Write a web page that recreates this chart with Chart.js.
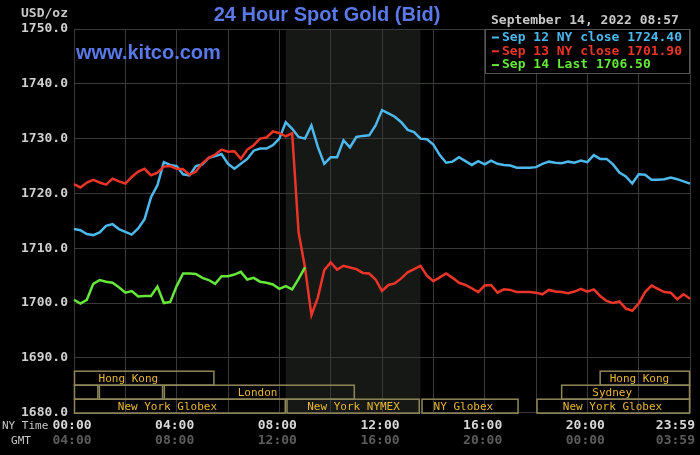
<!DOCTYPE html>
<html>
<head>
<meta charset="utf-8">
<script src="https://cdn.jsdelivr.net/npm/chart.js@4.4.0/dist/chart.umd.min.js"></script>
<style>
  html, body { margin: 0; padding: 0; background: #000; }
  #wrap { width: 700px; height: 455px; position: relative; }
</style>
</head>
<body>
<div id="wrap"><canvas id="goldChart"></canvas></div>
<script>
// NY time, every 15 minutes
const timeLabels = [
  "00:00","00:15","00:30","00:45","01:00","01:15","01:30","01:45",
  "02:00","02:15","02:30","02:45","03:00","03:15","03:30","03:45",
  "04:00","04:15","04:30","04:45","05:00","05:15","05:30","05:45",
  "06:00","06:15","06:30","06:45","07:00","07:15","07:30","07:45",
  "08:00","08:15","08:30","08:45","09:00","09:15","09:30","09:45",
  "10:00","10:15","10:30","10:45","11:00","11:15","11:30","11:45",
  "12:00","12:15","12:30","12:45","13:00","13:15","13:30","13:45",
  "14:00","14:15","14:30","14:45","15:00","15:15","15:30","15:45",
  "16:00","16:15","16:30","16:45","17:00","17:15","17:30","17:45",
  "18:00","18:15","18:30","18:45","19:00","19:15","19:30","19:45",
  "20:00","20:15","20:30","20:45","21:00","21:15","21:30","21:45",
  "22:00","22:15","22:30","22:45","23:00","23:15","23:30","23:45",
  "23:59"
];

const sep12 = [
  1713.5, 1713.3, 1712.6, 1712.4, 1712.9, 1714.1, 1714.4, 1713.5,
  1713.0, 1712.5, 1713.6, 1715.3, 1719.3, 1721.5, 1725.7, 1725.2,
  1725.0, 1723.5, 1723.3, 1725.0, 1725.3, 1726.5, 1726.8, 1727.2,
  1725.4, 1724.5, 1725.4, 1726.3, 1727.8, 1728.2, 1728.2, 1728.8,
  1730.0, 1733.0, 1731.8, 1730.3, 1730.0, 1732.4, 1728.5, 1725.4,
  1726.6, 1726.6, 1729.7, 1728.4, 1730.3, 1730.5, 1730.6, 1732.4,
  1735.2, 1734.6, 1734.0, 1733.0, 1731.6, 1731.2, 1730.0, 1729.9,
  1728.9, 1727.0, 1725.6, 1725.8, 1726.6, 1725.9, 1725.2, 1725.9,
  1725.3, 1726.0, 1725.4, 1725.2, 1725.1, 1724.7, 1724.7, 1724.7,
  1724.8, 1725.4, 1725.8, 1725.6, 1725.5, 1725.8, 1725.6, 1726.0,
  1725.7, 1727.0, 1726.3, 1726.3, 1725.3, 1723.8, 1723.1, 1721.8,
  1723.5, 1723.4, 1722.5, 1722.5, 1722.6, 1722.9, 1722.6, 1722.2,
  1721.8
];

const sep13 = [
  1721.7, 1721.1, 1722.0, 1722.5, 1722.0, 1721.6, 1722.7, 1722.2,
  1721.8, 1723.0, 1724.0, 1724.5, 1723.3, 1723.8, 1724.9, 1725.0,
  1724.5, 1724.4, 1723.4, 1724.0, 1725.5, 1726.5, 1727.1, 1728.0,
  1727.6, 1727.7, 1726.3, 1728.0, 1728.8, 1730.0, 1730.2, 1731.3,
  1731.0, 1730.4, 1731.0, 1712.9, 1706.5, 1697.8, 1701.0, 1706.0,
  1707.4, 1706.1, 1706.8, 1706.5, 1706.2, 1705.5, 1705.4, 1704.3,
  1702.2, 1703.3, 1703.6, 1704.5, 1705.6, 1706.2, 1706.8, 1705.0,
  1704.0, 1704.7, 1705.4, 1704.6, 1703.7, 1703.3, 1702.7, 1702.0,
  1703.2, 1703.3, 1701.9, 1702.5, 1702.4, 1702.0, 1702.0, 1702.0,
  1701.9, 1701.6, 1702.4, 1702.1, 1702.0, 1701.8, 1702.1, 1702.6,
  1702.1, 1702.5, 1701.3, 1700.4, 1700.0, 1700.3, 1699.0, 1698.6,
  1699.9, 1702.0, 1703.2, 1702.6, 1702.0, 1701.9, 1700.7, 1701.6,
  1700.8
];

// today, up to 08:57
const sep14 = [
  1700.6, 1699.9, 1700.6, 1703.5, 1704.2, 1703.9, 1703.7, 1702.9,
  1701.9, 1702.2, 1701.2, 1701.3, 1701.3, 1703.0, 1700.0, 1700.2,
  1703.1, 1705.4, 1705.4, 1705.3, 1704.6, 1704.2, 1703.5, 1704.9,
  1704.9, 1705.2, 1705.7, 1704.3, 1704.6, 1703.9, 1703.7, 1703.4,
  1702.6, 1703.1, 1702.5, 1704.4, 1706.5
];

const nyTimeTicks = ["00:00", "04:00", "08:00", "12:00", "16:00", "20:00", "23:59"];
const gmtTimeTicks = ["04:00", "08:00", "12:00", "16:00", "20:00", "00:00", "03:59"];
const legendLines = ["Sep 12 NY close 1724.40", "Sep 13 NY close 1701.90", "Sep 14 Last 1706.50"];
const legendColors = ["#4cb8ec", "#ec3428", "#66e83a"];

// market sessions in NY hours (row 0 = top)
const sessions = [
  { row: 0, from: 0, to: 5.47, label: "Hong Kong", at: 2.12 },
  { row: 0, from: 20.48, to: 24, label: "Hong Kong", at: 22.03 },
  { row: 1, from: 0, to: 0.95, label: "" },
  { row: 1, from: 0.97, to: 3.47, label: "" },
  { row: 1, from: 3.5, to: 10.94, label: "London", at: 7.15 },
  { row: 1, from: 18.98, to: 24, label: "Sydney", at: 20.97 },
  { row: 2, from: 0, to: 8.25, label: "New York Globex", at: 3.64 },
  { row: 2, from: 8.28, to: 13.47, label: "New York NYMEX", at: 10.89 },
  { row: 2, from: 13.54, to: 17.32, label: "NY Globex", at: 15.17 },
  { row: 2, from: 18.02, to: 24, label: "New York Globex", at: 20.98 }
];
const nymexHours = [8.25, 13.5];

const MONO = '"DejaVu Sans Mono", monospace';
const GRID = "#3a3a3a";

function hourPx(scale, h) {
  return scale.getPixelForValue(h * 4);
}

const kitcoDecor = {
  id: "kitcoDecor",
  beforeDraw(chart) {
    const { ctx, chartArea: a, scales: { x } } = chart;
    ctx.save();
    ctx.fillStyle = "#000";
    ctx.fillRect(0, 0, chart.width, chart.height);
    const x0 = hourPx(x, nymexHours[0]);
    const x1 = hourPx(x, nymexHours[1]);
    ctx.fillStyle = "#151815";
    ctx.fillRect(x0, a.top, x1 - x0, a.bottom - a.top);
    ctx.restore();
  },
  afterDraw(chart) {
    const { ctx, chartArea: a, scales: { x } } = chart;
    ctx.save();
    ctx.textBaseline = "middle";

    // session boxes
    const rowH = 14;
    ctx.lineWidth = 1.5;
    ctx.strokeStyle = "#8f8758";
    ctx.font = "11px " + MONO;
    ctx.textAlign = "center";
    sessions.forEach(s => {
      const top = a.bottom - (3 - s.row) * rowH;
      const x0 = hourPx(x, s.from);
      const x1 = hourPx(x, s.to);
      ctx.strokeRect(x0 + 0.5, top + 0.5, x1 - x0 - 1, rowH);
      if (s.label) {
        ctx.fillStyle = "#e8b834";
        ctx.fillText(s.label, hourPx(x, s.at), top + rowH / 2 + 1);
      }
    });

    // title + site
    ctx.fillStyle = "#5a78e8";
    ctx.font = 'bold 20px "Liberation Sans", Arial, sans-serif';
    ctx.textAlign = "center";
    ctx.fillText("24 Hour Spot Gold (Bid)", 327, 15);
    ctx.textAlign = "left";
    ctx.fillText("www.kitco.com", 76, 53);

    // top labels
    ctx.font = "bold 13px " + MONO;
    ctx.fillStyle = "#c8c8c8";
    ctx.fillText("USD/oz", 21, 14);
    ctx.fillText("September 14, 2022 08:57", 491, 21);

    // legend box
    ctx.fillStyle = "#000";
    ctx.fillRect(485, 29, 205, 44);
    ctx.strokeStyle = "#555";
    ctx.lineWidth = 1;
    ctx.strokeRect(485.5, 29.5, 204, 44);
    legendLines.forEach((t, i) => {
      const y = 37.5 + i * 13.8;
      ctx.fillStyle = legendColors[i];
      ctx.fillRect(492, y - 1, 7, 2);
      ctx.fillText(t, 502, y);
    });

    // time axis
    nyTimeTicks.forEach((t, i) => {
      const idx = timeLabels.indexOf(t);
      let px = x.getPixelForValue(idx) - 2;
      let align = "center";
      if (i === nyTimeTicks.length - 1) { px = 695; align = "right"; }
      ctx.textAlign = align;
      ctx.fillStyle = "#d8d8d8";
      ctx.fillText(t, px, 426);
      ctx.fillStyle = "#5c5c5c";
      ctx.fillText(gmtTimeTicks[i], px, 441);
    });
    ctx.font = "11px " + MONO;
    ctx.fillStyle = "#c8c8c8";
    ctx.textAlign = "left";
    ctx.fillText("NY Time", 2, 426);
    ctx.textAlign = "center";
    ctx.fillText("GMT", 21, 441);
    ctx.restore();
  }
};

new Chart(document.getElementById("goldChart"), {
  type: "line",
  data: {
    labels: timeLabels,
    datasets: [
      { label: "Sep 12", data: sep12, borderColor: legendColors[0], order: 2 },
      { label: "Sep 13", data: sep13, borderColor: legendColors[1], order: 1 },
      { label: "Sep 14", data: sep14, borderColor: legendColors[2], order: 0 }
    ]
  },
  options: {
    responsive: true,
    maintainAspectRatio: false,
    animation: false,
    layout: { padding: { top: 29, right: 10, left: 0, bottom: 0 } },
    elements: {
      line: { borderWidth: 2.5, tension: 0 },
      point: { radius: 0 }
    },
    plugins: {
      legend: { display: false },
      tooltip: { enabled: false }
    },
    scales: {
      x: {
        ticks: { display: false, autoSkip: false },
        grid: {
          drawTicks: false,
          color: c => (c.index % 8 === 0 ? GRID : "rgba(0,0,0,0)")
        },
        border: { display: false },
        afterFit: s => { s.height = 42.3; }
      },
      y: {
        min: 1680,
        max: 1750,
        ticks: {
          stepSize: 10,
          padding: 6,
          color: "#d0d0d0",
          font: { family: MONO, size: 13, weight: "bold" },
          callback: v => v.toFixed(1)
        },
        grid: { drawTicks: false, color: GRID },
        border: { display: false },
        afterFit: s => { s.width = 74; }
      }
    }
  },
  plugins: [kitcoDecor]
});
</script>
</body>
</html>
